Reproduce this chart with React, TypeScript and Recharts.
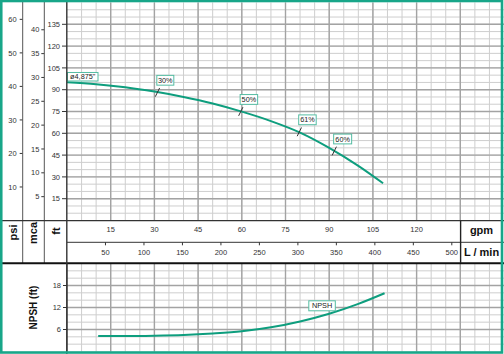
import React from 'react';
import { ComposedChart, Line, Scatter, XAxis, YAxis, CartesianGrid } from 'recharts';

// pump curve, 4.875" impeller
const flowGpm = [0, 10, 20, 30, 40, 50, 60, 70, 80, 90, 100, 108.5];
const headFt = [95.1, 93.8, 91.7, 88.7, 85.0, 80.5, 74.9, 68.4, 60.5, 50.0, 37.6, 25.6];

const npshFlow = [10.7, 20, 30, 40, 50, 60, 70, 80, 90, 100, 109];
const npshFt = [4.2, 4.2, 4.3, 4.5, 4.9, 5.5, 6.6, 8.2, 10.3, 13.0, 15.9];

const effLabels = ['30%', '50%', '61%', '60%'];
const effFlow = [31.0, 59.6, 79.7, 91.7];
const effHead = [88.3, 75.1, 61.1, 47.9];

const diamLabel = 'ø4,875"';
const npshLabel = 'NPSH';
const npshLabelAt = { flow: 83.0, npsh: 11.1 };

const gpmTicks = [15, 30, 45, 60, 75, 90, 105, 120];
const lminTicks = [50, 100, 150, 200, 250, 300, 350, 400, 450, 500];
const ftTicks = [15, 30, 45, 60, 75, 90, 105, 120, 135];
const mcaTicks = [5, 10, 15, 20, 25, 30, 35, 40];
const psiTicks = [10, 20, 30, 40, 50, 60];
const npshTicks = [6, 12, 18];

const LPM_PER_GPM = 3.7854;
const FT_PER_MCA = 3.2808;
const FT_PER_PSI = 2.3067;

const range = (a: number, b: number, s: number) =>
  Array.from({ length: Math.floor((b - a) / s) + 1 }, (_, i) => a + i * s);

const minorGpm = range(5, 145, 5);
const majorGpm = range(15, 135, 15);
const minorFt = range(5, 145, 5);
const majorFt = range(15, 135, 15);
const minorNpsh = range(2, 22, 2);
const majorNpsh = range(6, 18, 6);

const headData = flowGpm.map((f, i) => ({ flow: f, head: headFt[i] }));
const npshData = npshFlow.map((f, i) => ({ flow: f, npsh: npshFt[i] }));
const effData = effFlow.map((f, i) => ({ flow: f, head: effHead[i], label: effLabels[i] }));
const diamData = [{ flow: flowGpm[0], head: headFt[0], label: diamLabel }];
const npshLabelData = [{ ...npshLabelAt, label: npshLabel }];
// L/min ticks placed on the gpm scale
const lminOnGpm = lminTicks.map((v) => v / LPM_PER_GPM);

const TEAL = '#0e9e7e';
const FONT = '"Liberation Sans", Arial, sans-serif';
const tickStyle = { fontSize: 7.5, fill: '#333', fontFamily: FONT };

const boxW: Record<string, number> = {
  '30%': 17, '50%': 17.5, '61%': 17.5, '60%': 18, NPSH: 26.5,
};

function Tag({ x, y, w, h, text }: { x: number; y: number; w: number; h: number; text: string }) {
  return (
    <g>
      <rect x={x} y={y} width={w} height={h} fill="#fff" stroke="#55bda3" strokeWidth={1} />
      <text x={x + w / 2} y={y + h / 2 + 2.6} textAnchor="middle" fontSize={7.3} fill="#222" fontFamily={FONT}>
        {text}
      </text>
    </g>
  );
}

function EffMark(props: any) {
  const { cx, cy, payload } = props;
  const w = boxW[payload.label] ?? 18;
  return (
    <g>
      <line x1={cx + 2.3} y1={cy - 4.2} x2={cx - 2} y2={cy + 4.5} stroke="#333" strokeWidth={1} />
      <Tag x={cx - 0.5} y={cy - 16.8} w={w} h={9.8} text={payload.label} />
    </g>
  );
}

function DiamMark(props: any) {
  const { cx, cy, payload } = props;
  return <Tag x={cx + 0.5} y={cy - 9.8} w={30.5} h={8.5} text={payload.label} />;
}

function NpshMark(props: any) {
  const { cx, cy, payload } = props;
  const w = boxW[payload.label] ?? 26;
  return <Tag x={cx} y={cy - 10} w={w} h={10} text={payload.label} />;
}

function Frame() {
  const bold = { fontFamily: FONT, fontWeight: 700, fill: '#111' } as const;
  return (
    <svg width={504} height={354} style={{ position: 'absolute', left: 0, top: 0, pointerEvents: 'none' }}>
      <line x1={22.7} y1={0} x2={22.7} y2={263} stroke="#555" strokeWidth={1} />
      <line x1={44.3} y1={0} x2={44.3} y2={263} stroke="#555" strokeWidth={1} />
      <line x1={0} y1={220.6} x2={504} y2={220.6} stroke="#333" strokeWidth={1.4} />
      <line x1={0} y1={263.2} x2={504} y2={263.2} stroke="#111" strokeWidth={2} />
      <line x1={460.6} y1={220.6} x2={460.6} y2={263} stroke="#222" strokeWidth={1.4} />
      <line x1={66.8} y1={0} x2={66.8} y2={354} stroke="#333" strokeWidth={1.4} />
      <text transform="translate(12.5,232.5) rotate(-90)" textAnchor="middle" dominantBaseline="central" fontSize={11} {...bold}>psi</text>
      <text transform="translate(33.3,233) rotate(-90)" textAnchor="middle" dominantBaseline="central" fontSize={11} {...bold}>mca</text>
      <text transform="translate(56,231) rotate(-90)" textAnchor="middle" dominantBaseline="central" fontSize={11} {...bold}>ft</text>
      <text x={481.5} y={234} textAnchor="middle" fontSize={11} {...bold}>gpm</text>
      <text x={481.5} y={256} textAnchor="middle" fontSize={11} {...bold}>L / min</text>
      <rect x={1.25} y={1} width={500.75} height={351.5} fill="none" stroke="#18a689" strokeWidth={2.6} />
    </svg>
  );
}

export default function App() {
  return (
    <div style={{ position: 'absolute', left: 0, top: 0, width: 504, height: 354, background: '#fff', overflow: 'hidden' }}>
      <div style={{ position: 'absolute', left: 0, top: 0 }}>
        <ComposedChart width={504} height={263.3} margin={{ top: 2.5, right: 0, bottom: 0, left: 0 }}>
          <XAxis xAxisId="gpm" type="number" dataKey="flow" domain={[0, 150]} ticks={gpmTicks} interval={0}
            tickLine={false} axisLine={false} tickSize={0} tickMargin={6} height={21.8} tick={tickStyle} allowDataOverflow />
          <XAxis xAxisId="lmin" type="number" dataKey="flow" domain={[0, 150]} ticks={lminOnGpm} interval={0}
            tickFormatter={(v: number) => String(Math.round(v * LPM_PER_GPM))}
            tickSize={3} tickMargin={4} height={21} axisLine={{ stroke: '#333' }} tickLine={{ stroke: '#333' }}
            tick={tickStyle} allowDataOverflow />
          <YAxis yAxisId="ft" type="number" dataKey="head" domain={[0, 150]} ticks={ftTicks} interval={0} width={22.7}
            tickSize={5} tickMargin={2} axisLine={false} tickLine={{ stroke: '#333' }} tick={tickStyle} allowDataOverflow />
          <YAxis yAxisId="mca" type="number" domain={[0, 150 / FT_PER_MCA]} ticks={mcaTicks} interval={0} width={21.6}
            tickSize={3} tickMargin={2} axisLine={false} tickLine={{ stroke: '#333' }} tick={tickStyle} allowDataOverflow />
          <YAxis yAxisId="psi" type="number" domain={[0, 150 / FT_PER_PSI]} ticks={psiTicks} interval={0} width={22.7}
            tickSize={3} tickMargin={3} axisLine={false} tickLine={{ stroke: '#333' }} tick={tickStyle} allowDataOverflow />
          <CartesianGrid xAxisId="gpm" yAxisId="ft" verticalValues={minorGpm} horizontalValues={minorFt}
            stroke="#cecece" strokeWidth={1} />
          <CartesianGrid xAxisId="gpm" yAxisId="ft" verticalValues={majorGpm} horizontalValues={majorFt}
            stroke="#a3a3a3" strokeWidth={1.4} />
          <Line xAxisId="gpm" yAxisId="ft" data={headData} dataKey="head" type="monotone" stroke={TEAL}
            strokeWidth={2} dot={false} isAnimationActive={false} />
          <Scatter xAxisId="gpm" yAxisId="ft" data={effData} dataKey="head" shape={EffMark} isAnimationActive={false} />
          <Scatter xAxisId="lmin" yAxisId="ft" data={diamData} dataKey="head" shape={DiamMark} isAnimationActive={false} />
        </ComposedChart>
      </div>
      <div style={{ position: 'absolute', left: 0, top: 263 }}>
        <ComposedChart width={504} height={88.5} margin={{ top: 0.5, right: 0, bottom: 0, left: 0 }}>
          <XAxis xAxisId="gpm" type="number" dataKey="flow" domain={[0, 150]} interval={0} hide allowDataOverflow />
          <YAxis yAxisId="npsh" type="number" dataKey="npsh" domain={[0, 24]} ticks={npshTicks} interval={0} width={67}
            tickSize={4} tickMargin={2} axisLine={{ stroke: '#333' }} tickLine={{ stroke: '#333' }} tick={tickStyle}
            label={{ value: 'NPSH (ft)', angle: -90, position: 'center', dx: -0.5, fontSize: 10, fontWeight: 700, fill: '#111', fontFamily: FONT }}
            allowDataOverflow />
          <CartesianGrid xAxisId="gpm" yAxisId="npsh" verticalValues={minorGpm} horizontalValues={minorNpsh}
            stroke="#cecece" strokeWidth={1} />
          <CartesianGrid xAxisId="gpm" yAxisId="npsh" verticalValues={majorGpm} horizontalValues={majorNpsh}
            stroke="#a3a3a3" strokeWidth={1.4} />
          <Line xAxisId="gpm" yAxisId="npsh" data={npshData} dataKey="npsh" type="monotone" stroke={TEAL}
            strokeWidth={2} dot={false} isAnimationActive={false} />
          <Scatter xAxisId="gpm" yAxisId="npsh" data={npshLabelData} dataKey="npsh" shape={NpshMark} isAnimationActive={false} />
        </ComposedChart>
      </div>
      <Frame />
    </div>
  );
}
